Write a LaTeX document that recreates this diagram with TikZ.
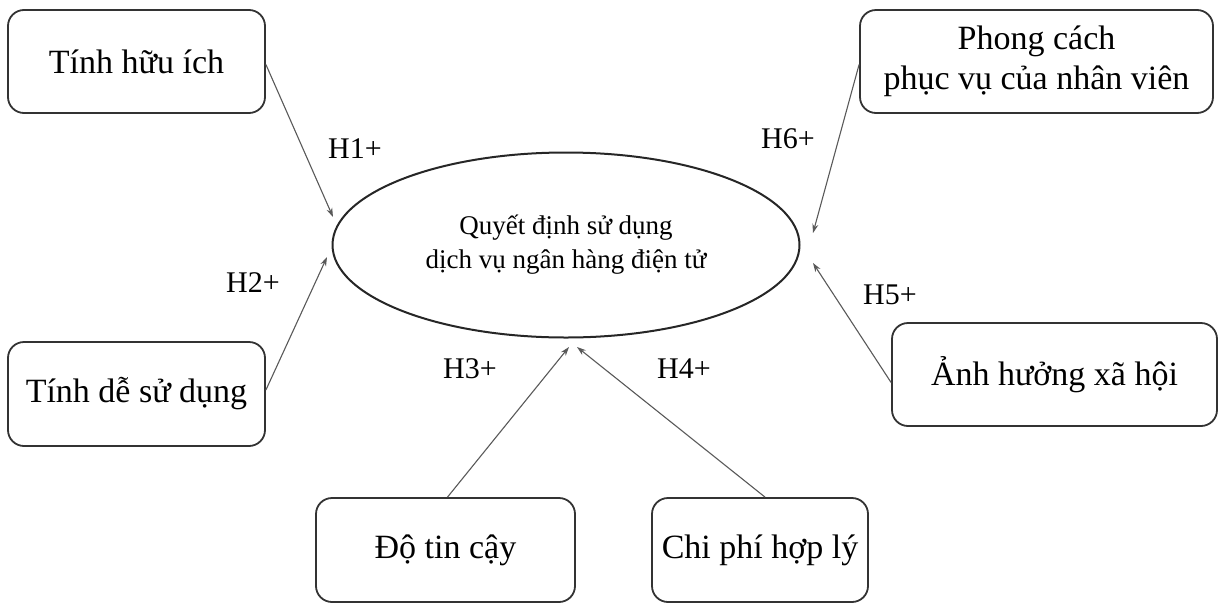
\documentclass[tikz,border=0pt]{standalone}
\usepackage{fontspec}
\setmainfont{Liberation Serif}
\usetikzlibrary{arrows.meta,shapes.geometric}
\begin{document}
\begin{tikzpicture}[x=1pt,y=-1pt,
  box/.style={draw=black!80, line width=1.8pt, rounded corners=16pt, inner sep=0pt, align=center,
     font=\fontsize{34}{40}\selectfont},
  ell/.style={draw=black!85, line width=2pt, ellipse, inner sep=0pt, align=center,
     minimum width=467pt, minimum height=185pt, font=\fontsize{27}{34}\selectfont},
  arr/.style={draw=black!65, line width=1.1pt, -{Stealth[length=9pt,width=6pt]}},
  lab/.style={font=\fontsize{30}{36}\selectfont, inner sep=0pt}]
\useasboundingbox (0,0) rectangle (1219,603);
\node[ell] (d) at (566,245) {Quyết định sử dụng\\dịch vụ ngân hàng điện tử};
\node[box, minimum width=257pt, minimum height=103pt] (b1) at (136.5,61.5) {Tính hữu ích};
\node[box, minimum width=257pt, minimum height=104pt] (b2) at (136.5,394) {Tính dễ sử dụng};
\node[box, minimum width=259pt, minimum height=104pt] (b3) at (445.5,550) {Độ tin cậy};
\node[box, minimum width=216pt, minimum height=104pt] (b4) at (760,550) {Chi phí hợp lý};
\node[box, minimum width=325pt, minimum height=103pt] (b5) at (1054.5,374.5) {Ảnh hưởng xã hội};
\node[box, minimum width=353pt, minimum height=103pt] (b6) at (1036.5,61.5) {Phong cách\\phục vụ của nhân viên};
\coordinate (t1) at (333,217);
\coordinate (t2) at (327,257);
\coordinate (t3) at (569,347);
\coordinate (t4) at (577,347);
\coordinate (t5) at (813,263);
\coordinate (t6) at (813,233);
\draw[arr] ([yshift=-3pt]b1.east) -- (t1);
\draw[arr] ([yshift=4pt]b2.east) -- (t2);
\draw[arr] ([xshift=2pt]b3.north) -- (t3);
\draw[arr] ([xshift=5pt]b4.north) -- (t4);
\draw[arr] ([yshift=-8pt]b5.west) -- (t5);
\draw[arr] ([yshift=-3pt]b6.west) -- (t6);
\node[lab] (h1) at (355,149) {H1+};
\node[lab] (h2) at (253,283) {H2+};
\node[lab] (h3) at (470,369) {H3+};
\node[lab] (h4) at (684,369) {H4+};
\node[lab] (h5) at (890,295) {H5+};
\node[lab] (h6) at (788,139) {H6+};
\end{tikzpicture}
\end{document}
